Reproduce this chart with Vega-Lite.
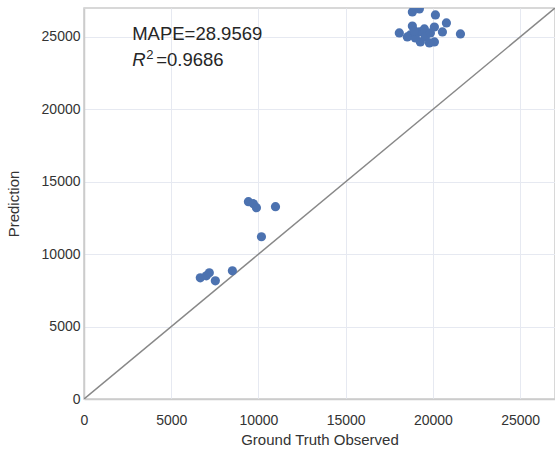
{
  "$schema": "https://vega.github.io/schema/vega-lite/v6.json",
  "width": 471,
  "height": 391,
  "autosize": {"type": "none"},
  "padding": {"left": 84, "top": 8, "right": 0, "bottom": 53},
  "config": {
    "font": "Liberation Sans",
    "view": {"stroke": "#cccccc", "strokeWidth": 1.5},
    "axis": {
      "labelFont": "Liberation Sans",
      "titleFont": "Liberation Sans",
      "labelFontSize": 14,
      "titleFontSize": 15,
      "labelColor": "#333333",
      "titleColor": "#333333",
      "titleFontWeight": "normal",
      "domainColor": "#cccccc",
      "domainWidth": 1.5,
      "gridColor": "#e6e9f1",
      "gridWidth": 1,
      "ticks": false
    }
  },
  "datasets": {
    "pts": [
      {"obs": 9425, "pred": 13624},
      {"obs": 9713, "pred": 13485},
      {"obs": 9885, "pred": 13209},
      {"obs": 10977, "pred": 13278},
      {"obs": 10172, "pred": 11203},
      {"obs": 8506, "pred": 8852},
      {"obs": 6667, "pred": 8368},
      {"obs": 7011, "pred": 8506},
      {"obs": 7184, "pred": 8714},
      {"obs": 7529, "pred": 8160},
      {"obs": 18822, "pred": 26725},
      {"obs": 19224, "pred": 26932},
      {"obs": 20144, "pred": 26518},
      {"obs": 20776, "pred": 25966},
      {"obs": 21580, "pred": 25206},
      {"obs": 18075, "pred": 25275},
      {"obs": 18822, "pred": 25758},
      {"obs": 18707, "pred": 25137},
      {"obs": 19224, "pred": 25344},
      {"obs": 19511, "pred": 25551},
      {"obs": 20086, "pred": 25689},
      {"obs": 20546, "pred": 25344},
      {"obs": 20086, "pred": 24654},
      {"obs": 19282, "pred": 24654},
      {"obs": 19569, "pred": 24999},
      {"obs": 19856, "pred": 25275},
      {"obs": 18535, "pred": 24999},
      {"obs": 18994, "pred": 24930},
      {"obs": 19799, "pred": 24585},
      {"obs": 18937, "pred": 25413}
    ],
    "diag": [
      {"obs": 0, "pred": 0},
      {"obs": 27000, "pred": 27000}
    ],
    "ann": [
      {"obs": 2760, "pred": 25205, "t": "MAPE=28.9569"}
    ],
    "annR": [
      {"obs": 2760, "pred": 23410, "t": "R"}
    ],
    "annSup": [
      {"obs": 2760, "pred": 23410, "t": "2"}
    ],
    "annRest": [
      {"obs": 2760, "pred": 23410, "t": "=0.9686"}
    ]
  },
  "layer": [
    {
      "data": {"name": "diag"},
      "mark": {"type": "line", "color": "#888888", "strokeWidth": 1.5, "clip": true},
      "encoding": {
        "x": {"field": "obs", "type": "quantitative", "scale": {"domain": [0, 27000], "nice": false, "zero": false},
              "axis": {"title": "Ground Truth Observed", "values": [0, 5000, 10000, 15000, 20000, 25000], "format": "d", "labelFlush": false, "labelPadding": 14, "titlePadding": 5}},
        "y": {"field": "pred", "type": "quantitative", "scale": {"domain": [0, 27000], "nice": false, "zero": false},
              "axis": {"title": "Prediction", "values": [0, 5000, 10000, 15000, 20000, 25000], "format": "d", "labelFlush": false, "labelPadding": 4, "titlePadding": 20}}
      }
    },
    {
      "data": {"name": "pts"},
      "mark": {"type": "circle", "color": "#4c72b0", "opacity": 1, "size": 85, "clip": true},
      "encoding": {
        "x": {"field": "obs", "type": "quantitative"},
        "y": {"field": "pred", "type": "quantitative"}
      }
    },
    {
      "data": {"name": "ann"},
      "mark": {"type": "text", "align": "left", "baseline": "middle", "fontSize": 18.5, "color": "#262626"},
      "encoding": {
        "x": {"field": "obs", "type": "quantitative"},
        "y": {"field": "pred", "type": "quantitative"},
        "text": {"field": "t"}
      }
    },
    {
      "data": {"name": "annR"},
      "mark": {"type": "text", "align": "left", "baseline": "middle", "fontSize": 18.5, "fontStyle": "italic", "color": "#262626"},
      "encoding": {
        "x": {"field": "obs", "type": "quantitative"},
        "y": {"field": "pred", "type": "quantitative"},
        "text": {"field": "t"}
      }
    },
    {
      "data": {"name": "annSup"},
      "mark": {"type": "text", "align": "left", "baseline": "middle", "fontSize": 13, "dx": 14, "dy": -5, "color": "#262626"},
      "encoding": {
        "x": {"field": "obs", "type": "quantitative"},
        "y": {"field": "pred", "type": "quantitative"},
        "text": {"field": "t"}
      }
    },
    {
      "data": {"name": "annRest"},
      "mark": {"type": "text", "align": "left", "baseline": "middle", "fontSize": 18.5, "dx": 24, "color": "#262626"},
      "encoding": {
        "x": {"field": "obs", "type": "quantitative"},
        "y": {"field": "pred", "type": "quantitative"},
        "text": {"field": "t"}
      }
    }
  ]
}
